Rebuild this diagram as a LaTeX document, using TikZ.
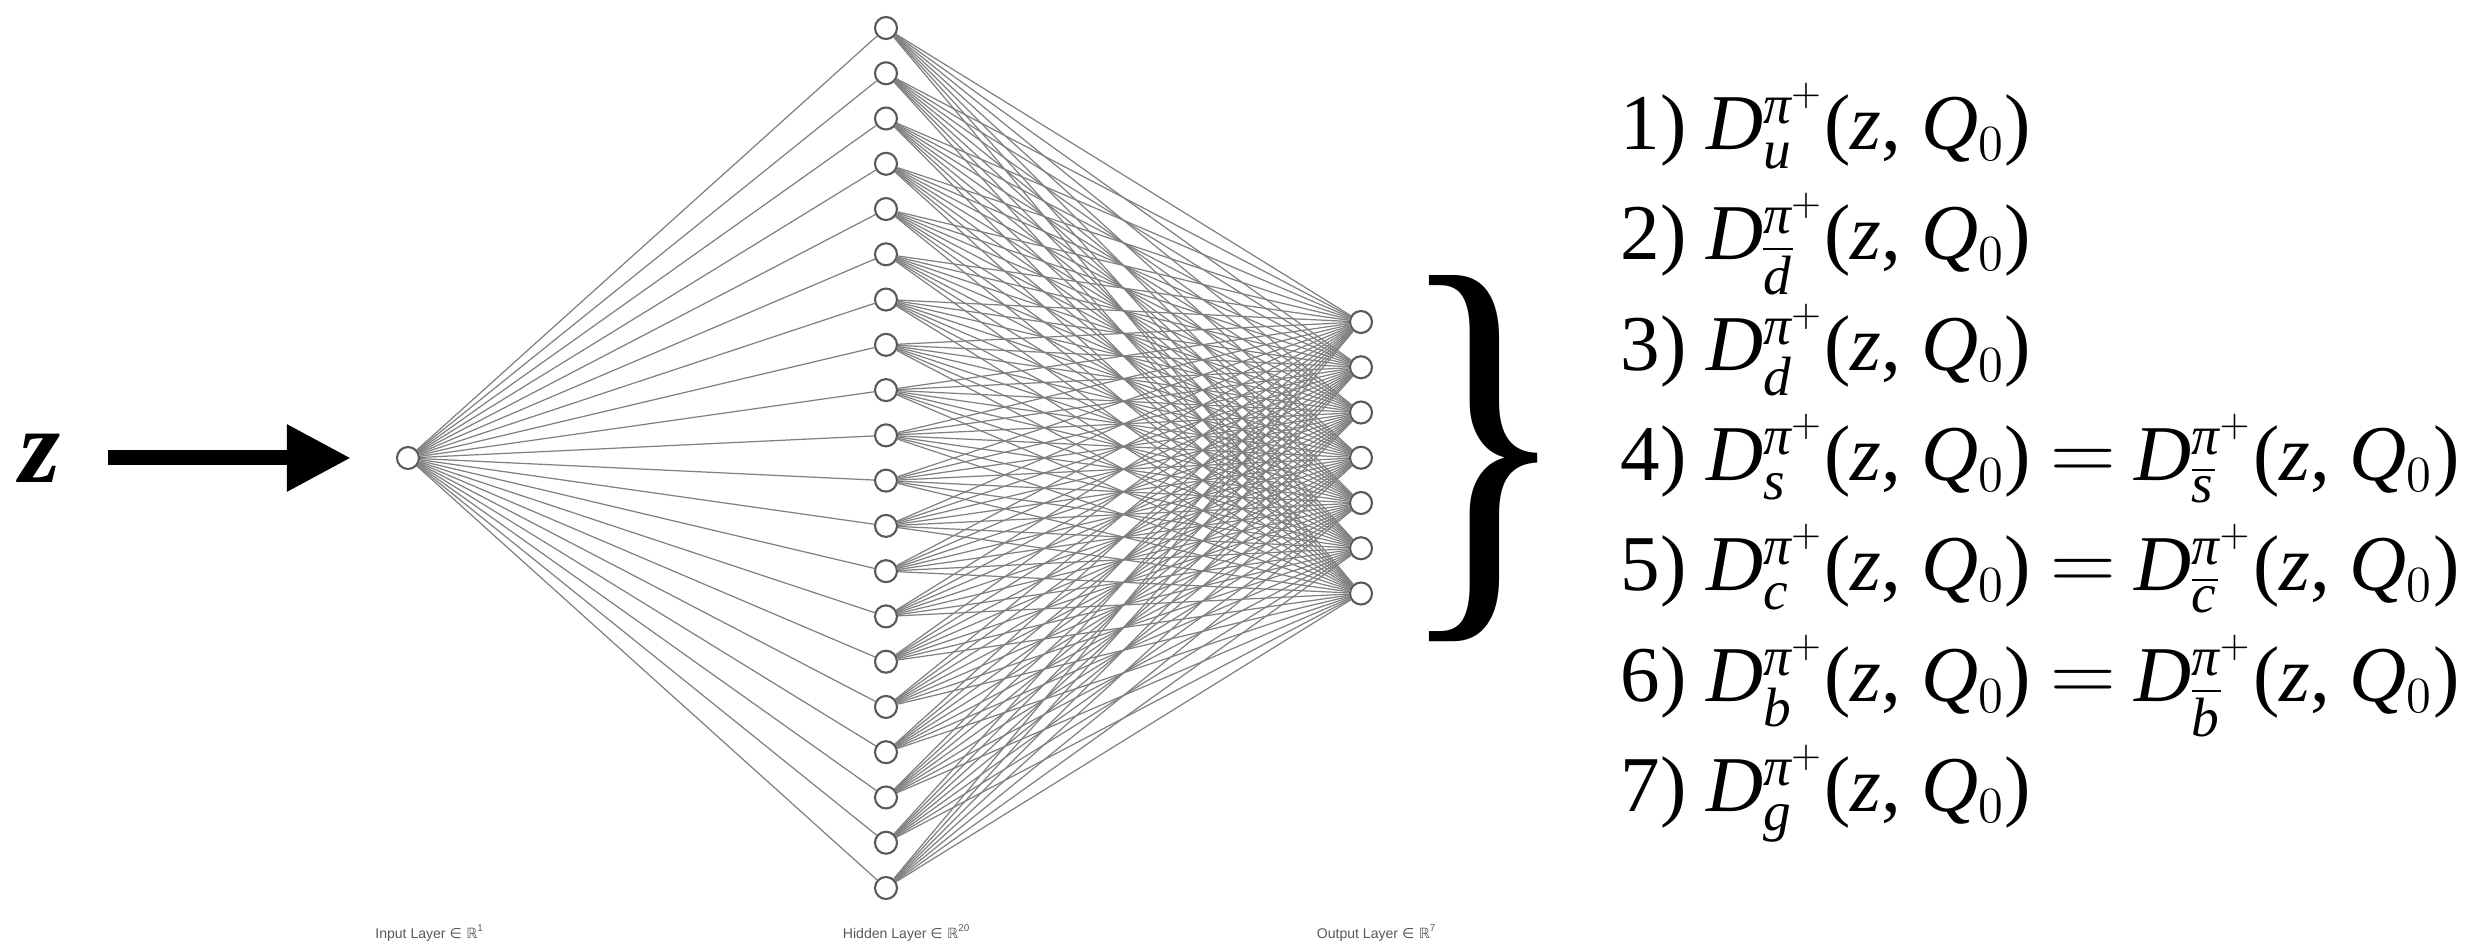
\documentclass[tikz,border=0pt]{standalone}
\usepackage{amsmath}
\usepackage{graphicx}
\usepackage{fontspec}
\setmainfont{Liberation Serif}
\newfontfamily\labelfont{Liberation Sans}
\newfontfamily\symbolfont{DejaVu Sans}
\usetikzlibrary{arrows.meta}
\definecolor{edgegray}{rgb}{0.5, 0.5, 0.5}
\definecolor{nodegray}{rgb}{0.35, 0.35, 0.35}
\newcommand{\Dfn}[1]{\textit{D}$^{\textit{π}^{+}}_{#1}$(\textit{z}, \textit{Q}$_{0}$)}
\newcommand{\eqsign}{\hspace{0.24em}\scalebox{1.25}[1.2]{$=$}\hspace{0.24em}}

\begin{document}
\begin{tikzpicture}[x=0.1mm, y=-0.1mm,
  neuron/.style={circle, draw=nodegray, fill=white, line width=0.6pt, inner sep=0pt, minimum size=2.2mm},
  edge/.style={draw=edgegray, line width=0.35pt},
  layerlabel/.style={text=nodegray, font=\labelfont\fontsize{4}{5}\selectfont},
  eqline/.style={anchor=base west, inner sep=0pt, font=\fontsize{22.5}{27}\selectfont}]

\useasboundingbox (0,0) rectangle (2476,941);

%input node
\node[neuron] at (408, 458)(i1){};

%hidden nodes
\foreach \k in {1,...,20}
  \node[neuron] at (886, {28+(\k-1)*45.263})(h\k){};

%output nodes
\foreach \k in {1,...,7}
  \node[neuron] at (1361, {322+(\k-1)*45.25})(o\k){};

%connections
\foreach \k in {1,...,20} {
  \draw[edge] (i1) -- (h\k);
  \foreach \j in {1,...,7}
    \draw[edge] (h\k) -- (o\j);
}

%layer labels
\node[layerlabel] at (430, 933)(lin){Input Layer {\symbolfont ∈ ℝ}\textsuperscript{1}};
\node[layerlabel] at (907, 933)(lhid){Hidden Layer {\symbolfont ∈ ℝ}\textsuperscript{20}};
\node[layerlabel] at (1377, 933)(lout){Output Layer {\symbolfont ∈ ℝ}\textsuperscript{7}};

%input variable
\node[inner sep=0pt] at (40, 458)(zin){\fontsize{30}{30}\selectfont\textbf{\textit{z}}};
\draw[-{Triangle[length=6.4mm, width=6.3mm]}, line width=1.5mm, shorten <=4.7mm, shorten >=4.5mm] (zin) -- (i1);

%brace
\node[inner sep=0pt] at (1484, 459)(brace){\resizebox{17.4mm}{30.7mm}{\}}};

%fragmentation functions
\node[eqline] at (1620, 150)(d1){1) \Dfn{\textit{u}}};
\node[eqline] at (1620, 260)(d2){2) \Dfn{\overline{\textit{d}}}};
\node[eqline] at (1620, 371)(d3){3) \Dfn{\textit{d}}};
\node[eqline] at (1620, 481)(d4){4) \Dfn{\textit{s}}\eqsign\Dfn{\overline{\textit{s}}}};
\node[eqline] at (1620, 591)(d5){5) \Dfn{\textit{c}}\eqsign\Dfn{\overline{\textit{c}}}};
\node[eqline] at (1620, 702)(d6){6) \Dfn{\textit{b}}\eqsign\Dfn{\overline{\textit{b}}}};
\node[eqline] at (1620, 812)(d7){7) \Dfn{\textit{g}}};

\end{tikzpicture}
\end{document}
